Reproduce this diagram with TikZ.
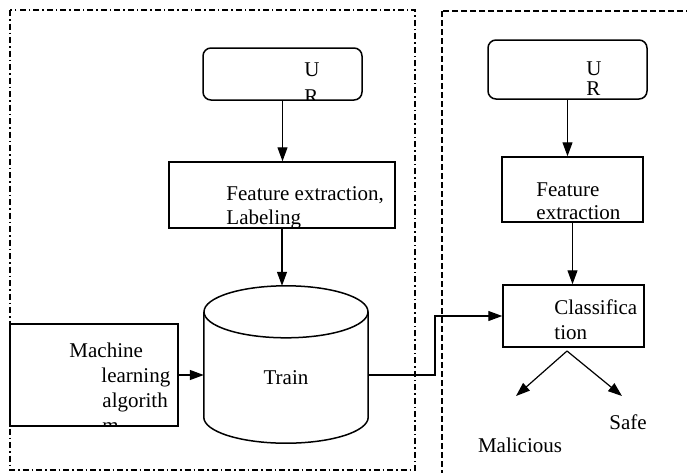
\documentclass[tikz,border=0pt]{standalone}
\usepackage{fontspec}
\setmainfont{Liberation Serif}
\usetikzlibrary{arrows.meta,calc}

\begin{document}
\begin{tikzpicture}[x=1pt, y=-1pt,
  font=\fontsize{21}{24}\selectfont,
  box/.style={draw, line width=1.5pt, inner sep=0pt},
  roundbox/.style={box, rounded corners=8pt},
  arrow/.style={-{Triangle[length=14pt,width=10pt]}, line width=1.2pt},
  txt/.style={inner sep=0pt, anchor=north west, align=left}]

\useasboundingbox (0,0) rectangle (687,472);

% Riquadri tratteggiati
\draw[line width=1.3pt, dash pattern=on 6pt off 3pt on 1.5pt off 3pt] (10,10) rectangle (415,470);
\draw[line width=1.3pt, dash pattern=on 6pt off 3pt] (442,11) rectangle (700,490);

% Parte sinistra: addestramento
\node[roundbox, minimum width=159pt, minimum height=52pt] (url1) at (282.5,74) {};
\node[box, minimum width=226pt, minimum height=66pt] (fe1) at (282,195) {};
\node[inner sep=0pt, minimum width=164pt, minimum height=157pt] (train) at (286,364.5) {};
\node (trainlbl) at (286,378) {Train};
\node[box, minimum width=168pt, minimum height=102pt] (ml) at (94,375) {};

% Cilindro
\draw[line width=1.5pt] ($(train.north)+(0,26)$) ellipse [x radius=82, y radius=26];
\draw[line width=1.5pt] ($(train.north west)+(0,26)$) -- ($(train.south west)+(0,-26)$)
  .. controls ($(train.south west)+(0,-11.6)$) and ($(train.south)+(-45.3,0)$) .. (train.south)
  .. controls ($(train.south)+(45.3,0)$) and ($(train.south east)+(0,-11.6)$) .. ($(train.south east)+(0,-26)$)
  -- ($(train.north east)+(0,26)$);

% Parte destra: classificazione
\node[roundbox, minimum width=159pt, minimum height=59pt] (url2) at (567.5,69.5) {};
\node[box, minimum width=141pt, minimum height=65pt] (fe2) at (572.5,189.5) {};
\node[box, minimum width=141pt, minimum height=62pt] (cls) at (573.5,316) {};
\node[anchor=base, inner sep=0pt] (safe) at (628,429) {Safe};
\node[anchor=base, inner sep=0pt] (mal) at (520,452) {Malicious};

% Testi tagliati dai riquadri
\begin{scope}
  \clip (url1.north west) rectangle (url1.south east);
  \node[txt, font=\fontsize{21}{27}\selectfont] (url1txt) at ($(url1.north west)+(102,15)$) {U\\R};
\end{scope}
\begin{scope}
  \clip (fe1.north west) rectangle (fe1.south east);
  \node[txt] (fe1txt) at ($(fe1.north west)+(58,25)$) {Feature extraction,\\Labeling};
\end{scope}
\begin{scope}
  \clip (ml.north west) rectangle (ml.south east);
  \node[txt, font=\fontsize{21}{25}\selectfont] (mltxt) at ($(ml.north west)+(60,19)$)
    {Machine\\\hspace*{32pt}learning\\\hspace*{33pt}algorith\\\hspace*{33pt}m};
\end{scope}
\begin{scope}
  \clip (url2.north west) rectangle (url2.south east);
  \node[txt, font=\fontsize{21}{20}\selectfont] (url2txt) at ($(url2.north west)+(99,22)$) {U\\R};
\end{scope}
\begin{scope}
  \clip (fe2.north west) rectangle (fe2.south east);
  \node[txt, font=\fontsize{21}{23}\selectfont] (fe2txt) at ($(fe2.north west)+(35,26)$) {Feature\\extraction};
\end{scope}
\begin{scope}
  \clip (cls.north west) rectangle (cls.south east);
  \node[txt, font=\fontsize{21}{25}\selectfont] (clstxt) at ($(cls.north west)+(52,15)$) {Classifica\\tion};
\end{scope}

% Punti liberi delle frecce
\coordinate (bend) at (435,0);
\coordinate (split) at (567,351);
\coordinate (malend) at (516,396);
\coordinate (safeend) at (622,396);

% Frecce
\draw[arrow] (url1.south) -- (url1.south |- fe1.north);
\draw[arrow] (fe1.south) -- (fe1.south |- train.north);
\draw[arrow] (ml.east) -- (ml.east -| train.west);
\draw[arrow] (train.east |- ml.east) -- (bend |- ml.east) |- (cls.west);
\draw[arrow] (url2.south) -- (url2.south |- fe2.north);
\draw[arrow] (fe2.south) -- (fe2.south |- cls.north);
\draw[arrow] (split) -- (malend);
\draw[arrow] (split) -- (safeend);

\end{tikzpicture}
\end{document}
